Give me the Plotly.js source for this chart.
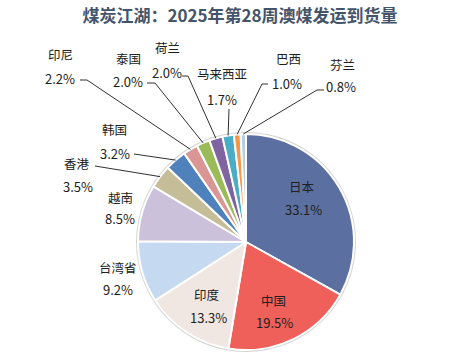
<!DOCTYPE html>
<html>
<head>
<meta charset="utf-8">
<script src="https://cdn.plot.ly/plotly-3.0.1.min.js"></script>
<style>html,body{margin:0;padding:0;background:#fff;}#chart{width:459px;height:360px;}</style>
</head>
<body>
<div id="chart"></div>
<script>
// ---- data ----
const categories = ["日本","中国","印度","台湾省","越南","香港","韩国","印尼","泰国","荷兰","马来西亚","巴西","芬兰"];
const shares = [33.1, 19.5, 13.3, 9.2, 8.5, 3.5, 3.2, 2.2, 2.0, 2.0, 1.7, 1.0, 0.8];
const titleText = "煤炭江湖：2025年第28周澳煤发运到货量";

// ---- styles & layout positions ----
const colors = ["#5B70A0","#F0605B","#F1E7E2","#C5D9F1","#CCC1DA","#C4BD97","#4F81BD","#D99694","#9BBB59","#8064A2","#4BACC6","#F79646","#B9CDE5"];
const W = 459, H = 360;
const cx = 246, cy = 242, R = 108;   // pie centre/radius in px
// label centres in px: [nameX, nameY, pctX, pctY]
const labelPos = [
  [302,186,303,209],[273,300,274,322],[207,294,208,317],[118,267,118,289],[120,197,120,219],
  [77,164,78,186],[114,129,115,153],[60,54,60,78],[128,59,128,82],[167,48,167,73],
  [222,74,222,99],[288,59,287,83],[342,64,341,86]
];
// leader line start [x, y, elbow dx] (null = inside label)
const leaderStart = [null,null,null,null,null,[95,166,0],[134,154,0],[80,80,7],[147,83,8],[182,76,6],[229,109,0],[268,84,-6],[324,90,-7]];

const px = x => x / W;
const py = y => 1 - y / H;

const trace0 = {
  type: 'pie', values: [1], labels: ['bg'], sort: false,
  marker: {colors: ['#D6D6D6']}, textinfo: 'none', hoverinfo: 'skip', showlegend: false,
  domain: {x: [px(cx - R - 2), px(cx + R + 2)], y: [py(cy + R + 2), py(cy - R - 2)]}
};
const trace1 = {
  type: 'pie', values: shares, labels: categories, sort: false, direction: 'clockwise', rotation: 0,
  marker: {colors: colors, line: {color: '#FFFFFF', width: 2}},
  textinfo: 'none', hoverinfo: 'skip', showlegend: false,
  domain: {x: [px(cx - R), px(cx + R)], y: [py(cy + R), py(cy - R)]}
};

const total = shares.reduce((a, b) => a + b, 0);
const annotations = [];
const shapes = [];
let cum = 0;
const fam = '"Noto Sans CJK SC", "Noto Sans", sans-serif';
const nameFont = {family: fam, size: 12.5, color: '#202020'};
const pctFont = {family: fam, size: 13, color: '#202020'};
shares.forEach((v, i) => {
  const mid = (cum + v / 2) / total * 2 * Math.PI;
  cum += v;
  const lp = labelPos[i];
  annotations.push({xref: 'paper', yref: 'paper', x: px(lp[0]), y: py(lp[1]), text: categories[i],
    showarrow: false, xanchor: 'center', yanchor: 'middle', font: nameFont});
  annotations.push({xref: 'paper', yref: 'paper', x: px(lp[2]), y: py(lp[3]), text: v.toFixed(1) + '%',
    showarrow: false, xanchor: 'center', yanchor: 'middle', font: pctFont});
  const s = leaderStart[i];
  if (s) {
    const ex = cx + R * Math.sin(mid), ey = cy - R * Math.cos(mid);
    const p = `M ${px(s[0])},${py(s[1])} L ${px(s[0] + s[2])},${py(s[1])} L ${px(ex)},${py(ey)}`;
    shapes.push({type: 'path', xref: 'paper', yref: 'paper', path: p, line: {color: '#303030', width: 1}});
  }
});

const layout = {
  width: W, height: H, margin: {l: 0, r: 0, t: 0, b: 0},
  paper_bgcolor: '#FFFFFF', plot_bgcolor: '#FFFFFF', showlegend: false,
  title: {text: '<b>' + titleText + '</b>', x: 240 / W, xanchor: 'center', y: 1 - 16 / H, yanchor: 'middle',
    font: {family: '"Noto Sans CJK SC", sans-serif', size: 17, color: '#44546A'}},
  annotations: annotations, shapes: shapes
};
Plotly.newPlot('chart', [trace0, trace1], layout, {displayModeBar: false, staticPlot: true});
</script>
</body>
</html>
